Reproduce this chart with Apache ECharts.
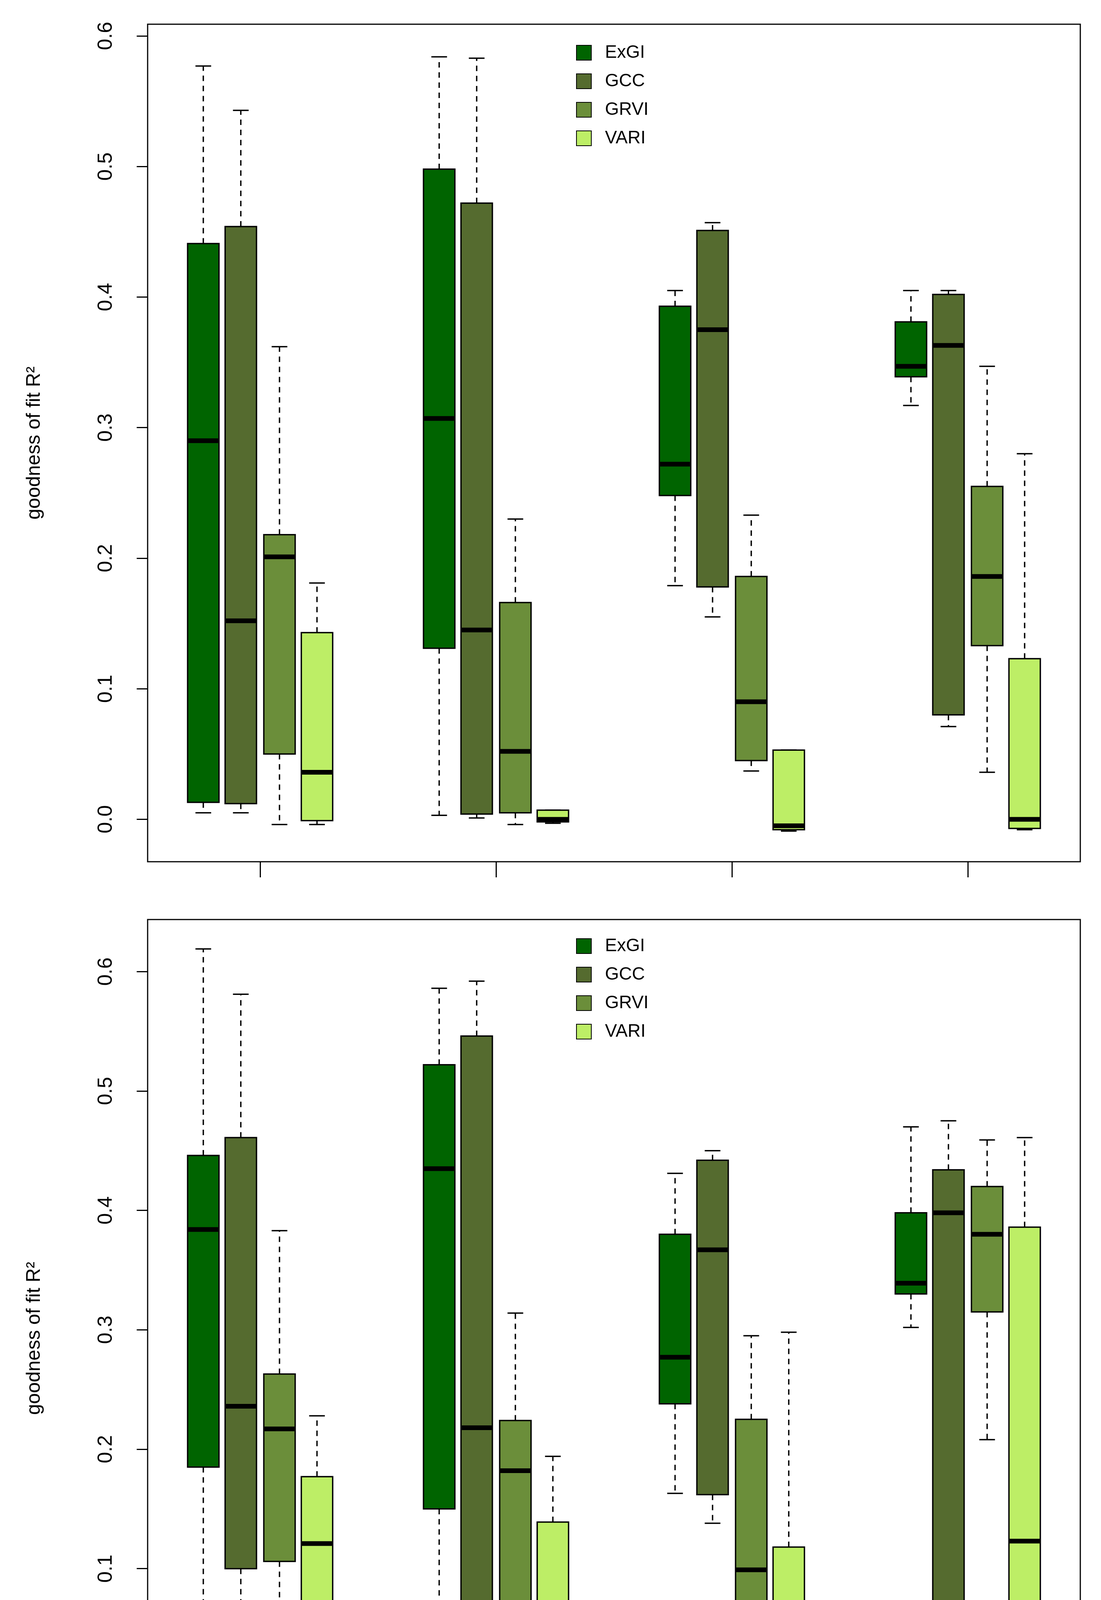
<!DOCTYPE html>
<html>
<head>
<meta charset="utf-8">
<script src="https://cdn.jsdelivr.net/npm/echarts@6/dist/echarts.min.js"></script>
<style>html,body{margin:0;background:#fff}#c{width:2819px;height:4901px}</style>
</head>
<body>
<div id="c"></div>
<script>
// indices and group labels
const indices = ['ExGI', 'GCC', 'GRVI', 'VARI'];
const colores = ['#006400', '#556B2F', '#6B8E3A', '#BDEE66'];
const distLabels = ['50 m', '100 m', '50 m', '100 m'];
const sites = ['La Carral', 'Cal Rovira-Sanca'];
const yTicks = [0, 0.1, 0.2, 0.3, 0.4, 0.5, 0.6];

// [low, q1, median, q3, high] per group (4 groups), top panel
const topExGI = [[0.005, 0.013, 0.290, 0.441, 0.577], [0.003, 0.131, 0.307, 0.498, 0.584], [0.179, 0.248, 0.272, 0.393, 0.405], [0.317, 0.339, 0.347, 0.381, 0.405]];
const topGCC  = [[0.005, 0.012, 0.152, 0.454, 0.543], [0.001, 0.004, 0.145, 0.472, 0.583], [0.155, 0.178, 0.375, 0.451, 0.457], [0.071, 0.080, 0.363, 0.402, 0.405]];
const topGRVI = [[-0.004, 0.050, 0.201, 0.218, 0.362], [-0.004, 0.005, 0.052, 0.166, 0.230], [0.037, 0.045, 0.090, 0.186, 0.233], [0.036, 0.133, 0.186, 0.255, 0.347]];
const topVARI = [[-0.004, -0.001, 0.036, 0.143, 0.181], [-0.003, -0.002, 0.000, 0.007, 0.007], [-0.009, -0.008, -0.005, 0.053, 0.053], [-0.008, -0.007, 0.000, 0.123, 0.280]];
const topOutliers = [[2, 3, 0.112], [3, 3, 0.189]]; // [group, index, value]

// bottom panel
const botExGI = [[0.030, 0.185, 0.384, 0.446, 0.619], [0.003, 0.150, 0.435, 0.522, 0.586], [0.163, 0.238, 0.277, 0.380, 0.431], [0.302, 0.330, 0.339, 0.398, 0.470]];
const botGCC  = [[0.030, 0.100, 0.236, 0.461, 0.581], [0.001, 0.067, 0.218, 0.546, 0.592], [0.138, 0.162, 0.367, 0.442, 0.450], [0.051, 0.062, 0.398, 0.434, 0.475]];
const botGRVI = [[0.025, 0.106, 0.217, 0.263, 0.383], [0.002, 0.070, 0.182, 0.224, 0.314], [0.022, 0.054, 0.099, 0.225, 0.295], [0.208, 0.315, 0.380, 0.420, 0.459]];
const botVARI = [[0.007, 0.030, 0.121, 0.177, 0.228], [0.000, 0.011, 0.021, 0.139, 0.194], [-0.030, -0.026, 0.005, 0.118, 0.298], [-0.012, 0.008, 0.123, 0.386, 0.461]];
const botOutliers = [];

const offsets = [-0.241, -0.082, 0.082, 0.241];
const boxW = 0.133;
const LW = 3.5;

function renderBox(params, api) {
  const x = api.value(0);
  const lo = api.coord([x, api.value(1)]);
  const q1 = api.coord([x, api.value(2)]);
  const md = api.coord([x, api.value(3)]);
  const q3 = api.coord([x, api.value(4)]);
  const hi = api.coord([x, api.value(5)]);
  const w = api.size([boxW, 0])[0];
  const cx = lo[0];
  const st = { stroke: '#000', lineWidth: LW };
  const dash = { stroke: '#000', lineWidth: LW, lineDash: [14, 12] };
  return {
    type: 'group',
    children: [
      { type: 'line', shape: { x1: cx, y1: q3[1], x2: cx, y2: hi[1] }, style: dash },
      { type: 'line', shape: { x1: cx, y1: q1[1], x2: cx, y2: lo[1] }, style: dash },
      { type: 'line', shape: { x1: cx - w / 4, y1: hi[1], x2: cx + w / 4, y2: hi[1] }, style: st },
      { type: 'line', shape: { x1: cx - w / 4, y1: lo[1], x2: cx + w / 4, y2: lo[1] }, style: st },
      { type: 'rect', shape: { x: cx - w / 2, y: q3[1], width: w, height: q1[1] - q3[1] },
        style: { fill: api.visual('color'), stroke: '#000', lineWidth: LW } },
      { type: 'line', shape: { x1: cx - w / 2, y1: md[1], x2: cx + w / 2, y2: md[1] }, style: { stroke: '#000', lineWidth: 12 } }
    ]
  };
}

const chart = echarts.init(document.getElementById('c'));

const panels = [
  { data: [topExGI, topGCC, topGRVI, topVARI], out: topOutliers, min: -0.0325, max: 0.609, top: 62 },
  { data: [botExGI, botGCC, botGRVI, botVARI], out: botOutliers, min: -0.0578, max: 0.6436, top: 2354 }
];

const grid = [], xAxis = [], yAxis = [], series = [], legend = [];
panels.forEach((p, k) => {
  grid.push({ left: 378, width: 2388, top: p.top, height: 2144, show: true, borderColor: '#000', borderWidth: 3, backgroundColor: 'transparent' });
  xAxis.push({
    type: 'value', gridIndex: k, min: 0.523, max: 4.477,
    splitLine: { show: false }, axisLine: { show: false, onZero: false },
    axisTick: { show: true, length: 40, lineStyle: { color: '#000', width: 3 }, customValues: [1, 2, 3, 4] },
    axisLabel: { show: k === 1, customValues: [1, 2, 3, 4], margin: 62, fontSize: 52, color: '#000', fontFamily: 'Liberation Sans',
      formatter: v => distLabels[Math.round(v) - 1] }
  });
  yAxis.push({
    type: 'value', gridIndex: k, min: p.min, max: p.max,
    name: 'goodness of fit R²', nameLocation: 'middle', nameGap: 265, nameRotate: 90,
    nameTextStyle: { fontSize: 50, color: '#000', fontFamily: 'Liberation Sans' },
    splitLine: { show: false }, axisLine: { show: false, onZero: false },
    axisTick: { show: true, length: 28, lineStyle: { color: '#000', width: 3 }, customValues: yTicks },
    axisLabel: { customValues: yTicks, rotate: 90, margin: 80, fontSize: 52, color: '#000', fontFamily: 'Liberation Sans',
      formatter: v => v.toFixed(1) }
  });
  indices.forEach((name, i) => {
    series.push({
      name, type: 'custom', xAxisIndex: k, yAxisIndex: k,
      itemStyle: { color: colores[i], borderColor: '#000', borderWidth: 2 },
      renderItem: renderBox,
      encode: { x: 0, y: [1, 2, 3, 4, 5] },
      data: p.data[i].map((b, g) => [g + 1 + offsets[i]].concat(b))
    });
  });
  series.push({
    type: 'scatter', xAxisIndex: k, yAxisIndex: k, symbol: 'emptyCircle', symbolSize: 34,
    itemStyle: { color: '#fff', borderColor: '#000', borderWidth: 3 },
    data: p.out.map(o => [o[0] + offsets[o[1]], o[2]])
  });
  legend.push({
    data: indices, orient: 'vertical', left: 1470, top: p.top + (k === 0 ? 45 : 40),
    icon: 'rect', itemWidth: 38, itemHeight: 38, itemGap: 27,
    textStyle: { fontSize: 46, color: '#000', fontFamily: 'Liberation Sans', padding: [0, 0, 0, 30] },
    itemStyle: { borderColor: '#000', borderWidth: 2 }, selectedMode: false
  });
});

chart.setOption({
  animation: false,
  backgroundColor: '#fff',
  grid, xAxis, yAxis, series, legend,
  graphic: sites.map((s, i) => ({
    type: 'text', left: i === 0 ? 968 - 140 : 2176 - 270, top: 4755,
    style: { text: s, fontSize: 52, fill: '#000', fontFamily: 'Liberation Sans' }
  }))
});
</script>
</body>
</html>
